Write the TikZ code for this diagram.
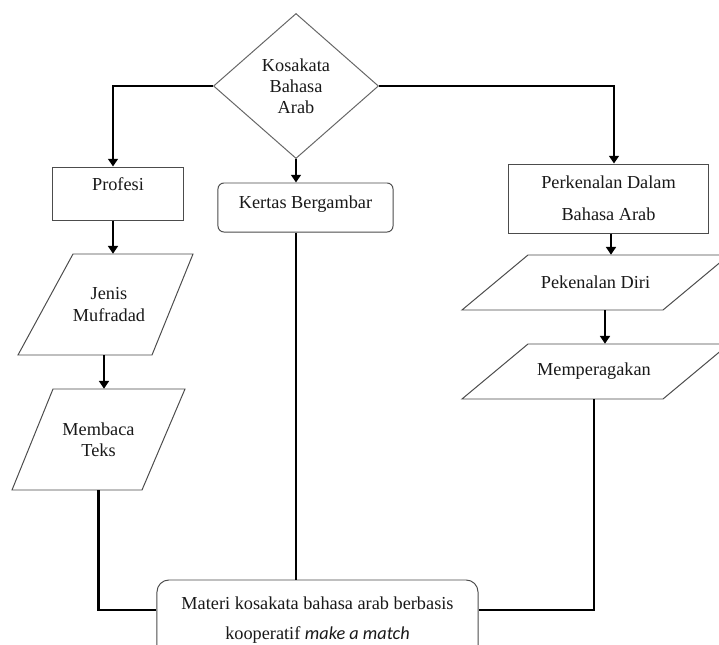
\documentclass[tikz,border=0pt]{standalone}
\usepackage{fontspec}
\setmainfont{Liberation Serif}
\setsansfont{Carlito}
\usetikzlibrary{shapes.geometric,arrows.meta}

\begin{document}
\begin{tikzpicture}[x=0.025cm, y=-0.025cm,
    kotak/.style={rectangle, draw=black!70, line width=0.7pt, inner sep=0pt, align=center, text=black!90, font=\fontsize{13}{15}\selectfont},
    wajik/.style={diamond, draw=black!60, line width=0.7pt, inner sep=0pt, align=center, text=black!90, font=\fontsize{13}{15}\selectfont},
    teks/.style={inner sep=0pt, align=center, text=black!90, font=\fontsize{13}{15}\selectfont},
    bentuk/.style={draw=black!70, line width=0.7pt, line join=miter},
    panah/.style={line width=2.1pt, -{Triangle[length=5.5pt,width=7pt]}},
    garis/.style={line width=2.1pt}]

    \useasboundingbox (0,0) rectangle (719,645);
    \clip (0,0) rectangle (719,645);
    \fill[white] (0,0) rectangle (719,645);

%kotak dan wajik
    \node[wajik, minimum width=4.125cm, minimum height=3.625cm] (arab) at (296,86) {Kosakata\\Bahasa\\Arab};
    \node[kotak, text depth=0.47cm, minimum width=3.25cm, minimum height=1.325cm] (profesi) at (118,193.5) {Profesi};
    \node[kotak, text depth=0.29cm, rounded corners=0.15cm, minimum width=4.375cm, minimum height=1.225cm] (kertas) at (305.5,207.5) {Kertas Bergambar};
    \node[kotak, minimum width=4.975cm, minimum height=1.725cm] (kenal) at (608.5,198.5) {Perkenalan Dalam\\[8pt]Bahasa Arab};

%jajaran genjang
    \draw[bentuk] (73,254) -- (193,254) -- (152,355) -- (18,355) -- cycle;
    \node[teks, minimum height=2.525cm] (jenis) at (109,304.5) {Jenis\\Mufradad};
    \draw[bentuk] (53,389) -- (185,389) -- (142,490) -- (12,490) -- cycle;
    \node[teks, minimum height=2.525cm] (membaca) at (98.5,439.5) {Membaca\\Teks};
    \draw[bentuk] (528,255) -- (729,255) -- (663,310) -- (462,310) -- cycle;
    \node[teks, minimum height=1.375cm] (diri) at (595.5,282.5) {Pekenalan Diri};
    \draw[bentuk] (528,344) -- (729,344) -- (663,399) -- (462,399) -- cycle;
    \node[teks, minimum height=1.375cm] (memper) at (594,371.5) {Memperagakan};

    \node[kotak, rounded corners=0.3cm, minimum width=8.025cm, minimum height=2cm] (materi) at (317.5,620) {Materi kosakata bahasa arab berbasis\\[6pt]kooperatif \textsf{\textit{make a match}}};

%panah
    \draw[panah] (arab.west) -| ([xshift=-0.125cm]profesi.north);
    \draw[panah] (arab.east) -| ([xshift=0.1375cm]kenal.north);
    \draw[panah] (arab.south) -- (arab.south |- kertas.north);
    \coordinate (k1) at ([xshift=-0.125cm]profesi.south);
    \draw[panah] (k1) -- (k1 |- jenis.north);
    \coordinate (k2) at ([xshift=-0.125cm]jenis.center);
    \draw[panah] (k2 |- jenis.south) -- (k2 |- membaca.north);
    \coordinate (k3) at ([xshift=0.0625cm]kenal.south);
    \draw[panah] (k3) -- (k3 |- diri.north);
    \coordinate (k4) at ([xshift=0.2375cm]diri.center);
    \draw[panah] (k4 |- diri.south) -- (k4 |- memper.north);

%garis ke materi
    \draw[garis] (membaca.center |- membaca.south) |- ([yshift=0.25cm]materi.west);
    \draw[garis] (memper.center |- memper.south) |- ([yshift=0.25cm]materi.east);
    \draw[garis] (arab.south |- kertas.south) -- (arab.south |- materi.north);

\end{tikzpicture}
\end{document}
